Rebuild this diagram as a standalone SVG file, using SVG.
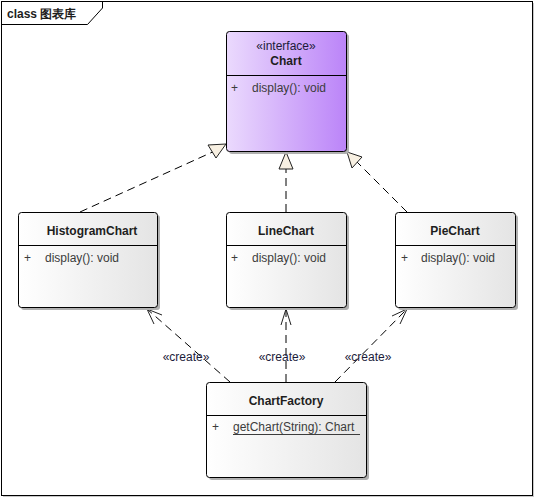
<svg xmlns="http://www.w3.org/2000/svg" width="535" height="498" viewBox="0 0 535 498">
<style>
text{font-family:"Liberation Sans",Arial,sans-serif;font-size:12px;fill:#1e1e1e}
.b{font-weight:bold;font-size:12px}
.m{fill:#3c3c3c}
.c{fill:#1c1c3a}
.box{stroke:#000;stroke-width:1}
.sh{fill:#b0b0b0}
.dash{fill:none;stroke:#000;stroke-width:1;stroke-dasharray:8,5}
.gen{fill:#f8f0e2;stroke:#222;stroke-width:1}
.open{fill:none;stroke:#222;stroke-width:1}
</style>
<defs>
<linearGradient id="g" x1="0" y1="0" x2="1" y2="0">
<stop offset="0" stop-color="#ffffff"/><stop offset="1" stop-color="#e4e4e4"/>
</linearGradient>
<linearGradient id="p" x1="0" y1="0" x2="1" y2="0">
<stop offset="0" stop-color="#ebdafd"/><stop offset="1" stop-color="#bb84f8"/>
</linearGradient>
</defs>
<rect x="0" y="0" width="535" height="498" fill="#fff"/>
<g id="frame">
<rect x="3" y="3" width="531" height="494" fill="#c8c8c8"/>
<rect x="1.5" y="1.5" width="531" height="494" fill="#fff" stroke="#000"/>
<path d="M1.5 24.5 H87.5 L102.5 8 V1.5" fill="none" stroke="#000"/>
<text x="7" y="18" class="b">class 图表库</text>
</g>
<g id="connectors">
<line class="dash" x1="80" y1="212" x2="217" y2="150"/>
<line class="dash" x1="286" y1="212" x2="286" y2="169"/>
<line class="dash" x1="407" y1="212" x2="356" y2="161"/>
<polygon class="gen" points="226,144 208,145 216,158"/>
<polygon class="gen" points="286,152 279,169 293,169"/>
<polygon class="gen" points="347,152 352,168 362,157"/>
<line class="dash" x1="230" y1="382" x2="147" y2="309"/>
<polyline class="open" points="154,324 147,309 162,315"/>
<line class="dash" x1="286" y1="382" x2="286" y2="309"/>
<polyline class="open" points="281,325 286,309 291,325"/>
<line class="dash" x1="335" y1="382" x2="407" y2="309"/>
<polyline class="open" points="392,316 407,309 400,324"/>
<text x="186" y="361" text-anchor="middle" class="c">«create»</text>
<text x="282" y="361" text-anchor="middle" class="c">«create»</text>
<text x="368" y="361" text-anchor="middle" class="c">«create»</text>
</g>
<g id="Chart">
<rect class="sh" x="229" y="34" width="120" height="120" rx="3"/>
<rect class="box" x="226.5" y="31.5" width="120" height="120" rx="3" fill="url(#p)"/>
<line x1="226.5" y1="75.5" x2="346.5" y2="75.5" stroke="#000"/>
<text x="286" y="50" text-anchor="middle" class="c">«interface»</text>
<text x="286" y="65" text-anchor="middle" class="b">Chart</text>
<text x="231" y="92" class="m">+</text>
<text x="252" y="92" class="m">display(): void</text>
</g>
<g id="HistogramChart">
<rect class="sh" x="21" y="215" width="139" height="95" rx="3"/>
<rect class="box" x="18.5" y="212.5" width="139" height="95" rx="3" fill="url(#g)"/>
<line x1="18.5" y1="245.5" x2="157.5" y2="245.5" stroke="#000"/>
<text x="92" y="235" text-anchor="middle" class="b">HistogramChart</text>
<text x="24" y="262" class="m">+</text>
<text x="45" y="262" class="m">display(): void</text>
</g>
<g id="LineChart">
<rect class="sh" x="229" y="215" width="120" height="95" rx="3"/>
<rect class="box" x="226.5" y="212.5" width="120" height="95" rx="3" fill="url(#g)"/>
<line x1="226.5" y1="245.5" x2="346.5" y2="245.5" stroke="#000"/>
<text x="286" y="235" text-anchor="middle" class="b">LineChart</text>
<text x="231" y="262" class="m">+</text>
<text x="252" y="262" class="m">display(): void</text>
</g>
<g id="PieChart">
<rect class="sh" x="398" y="215" width="120" height="95" rx="3"/>
<rect class="box" x="395.5" y="212.5" width="120" height="95" rx="3" fill="url(#g)"/>
<line x1="395.5" y1="245.5" x2="515.5" y2="245.5" stroke="#000"/>
<text x="455" y="235" text-anchor="middle" class="b">PieChart</text>
<text x="401" y="262" class="m">+</text>
<text x="421" y="262" class="m">display(): void</text>
</g>
<g id="ChartFactory">
<rect class="sh" x="209" y="385" width="160" height="95" rx="3"/>
<rect class="box" x="206.5" y="382.5" width="160" height="95" rx="3" fill="url(#g)"/>
<line x1="206.5" y1="415.5" x2="366.5" y2="415.5" stroke="#000"/>
<text x="286" y="405" text-anchor="middle" class="b">ChartFactory</text>
<text x="212" y="431" class="m">+</text>
<text x="233" y="431" class="m">getChart(String): Chart</text>
<line x1="233" y1="434.5" x2="360" y2="434.5" stroke="#3c3c3c"/>
</g>
</svg>
